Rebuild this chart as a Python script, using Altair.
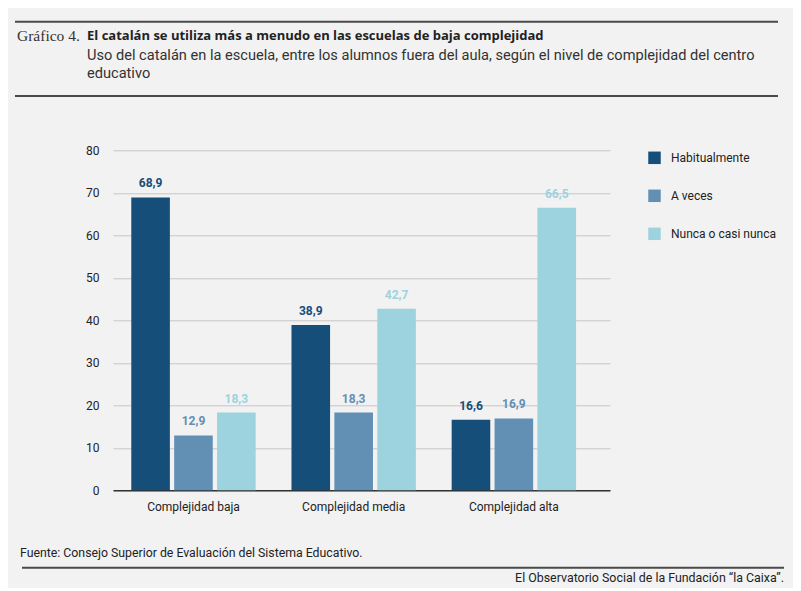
import altair as alt
import pandas as pd

categories = ["Complejidad baja", "Complejidad media", "Complejidad alta"]
series = ["Habitualmente", "A veces", "Nunca o casi nunca"]
habitualmente = [68.9, 38.9, 16.6]
a_veces = [12.9, 18.3, 16.9]
nunca = [18.3, 42.7, 66.5]
colors = ["#154E78", "#628FB4", "#9CD3DF"]
y_ticks = [0, 10, 20, 30, 40, 50, 60, 70, 80]

rows = []
for vals, s in zip([habitualmente, a_veces, nunca], series):
    for c, v in zip(categories, vals):
        rows.append({"cat": c, "serie": s, "valor": v,
                     "etiqueta": f"{v:.1f}".replace(".", ",")})
df = pd.DataFrame(rows)

FONT = "Roboto"
W, H = 497, 340

color_scale = alt.Scale(domain=series, range=colors)
x_enc = alt.X("cat:N", sort=categories, title=None,
              scale=alt.Scale(paddingInner=0.2235, paddingOuter=0.163, align=0.35),
              axis=alt.Axis(labelAngle=0, ticks=False, domainColor="#333333",
                            domainWidth=1.5, labelPadding=11, labelFontSize=12,
                            labelColor="#222222", labelFont=FONT))
xoff = alt.XOffset("serie:N", sort=series,
                   scale=alt.Scale(paddingInner=0.1, paddingOuter=0))
y_enc = alt.Y("valor:Q", title=None,
              scale=alt.Scale(domain=[0, 80], nice=False),
              axis=alt.Axis(values=y_ticks, domain=False, ticks=False,
                            gridColor="#C6C6C6", gridWidth=1, labelPadding=14,
                            labelFontSize=12, labelColor="#222222", labelFont=FONT))

bars = alt.Chart(df).mark_bar().encode(
    x=x_enc, xOffset=xoff, y=y_enc,
    color=alt.Color("serie:N", sort=series, scale=color_scale, title=None,
                    legend=alt.Legend(orient="none", legendX=535, legendY=1,
                                      symbolType="square", symbolSize=156,
                                      symbolStrokeWidth=0, rowPadding=25,
                                      labelOffset=10, labelFontSize=12,
                                      labelColor="#222222", labelFont=FONT,
                                      padding=0)),
)

labels = alt.Chart(df).mark_text(baseline="bottom", dy=-7, fontSize=12,
                                 fontWeight="bold", font=FONT).encode(
    x=alt.X("cat:N", sort=categories), xOffset=alt.XOffset("serie:N", sort=series),
    y="valor:Q", text="etiqueta:N",
    color=alt.Color("serie:N", sort=series, scale=color_scale, legend=None),
)


def text_layer(t, x, y, **kw):
    return alt.Chart(pd.DataFrame({"t": [t]})).mark_text(**kw).encode(
        x=alt.value(x), y=alt.value(y), text="t:N")


def rule_layer(x1, x2, y, width=2, color="#4A4A4A"):
    return alt.Chart(pd.DataFrame({"a": [0]})).mark_rule(
        color=color, strokeWidth=width).encode(
        x=alt.value(x1), x2=alt.value(x2), y=alt.value(y))


deco = [
    rule_layer(-98, 665, -128.6),
    rule_layer(-98, 665, -54.3),
    rule_layer(-91, 671, 417.4),
    text_layer("Gráfico 4.", -96, -109.5, align="left", baseline="alphabetic",
               font="Liberation Serif", fontSize=15.5, color="#333333"),
    text_layer("El catalán se utiliza más a menudo en las escuelas de baja complejidad",
               -26, -110, align="left", baseline="alphabetic", font="Open Sans",
               fontSize=13, fontWeight="bold", color="#222222"),
    text_layer("Uso del catalán en la escuela, entre los alumnos fuera del aula, según el nivel de complejidad del centro",
               -26, -90.5, align="left", baseline="alphabetic", font=FONT,
               fontSize=14.6, color="#333333"),
    text_layer("educativo", -26, -72.5, align="left", baseline="alphabetic",
               font=FONT, fontSize=14.6, color="#333333"),
    text_layer("Fuente: Consejo Superior de Evaluación del Sistema Educativo.",
               -93, 406.5, align="left", baseline="alphabetic", font=FONT,
               fontSize=12.3, color="#222222"),
    text_layer("El Observatorio Social de la Fundación “la Caixa”.",
               671, 431.5, align="right", baseline="alphabetic", font=FONT,
               fontSize=12.4, color="#222222"),
]

chart = alt.layer(bars, labels, *deco).properties(
    width=W, height=H,
    autosize=alt.AutoSizeParams(type="none"),
    padding={"left": 105, "top": 142.3, "right": 183, "bottom": 97.7},
    background="#F2F2F2",
).configure_view(stroke=None)

chart.save("out.html", embed_options={"renderer": "svg", "actions": False})
